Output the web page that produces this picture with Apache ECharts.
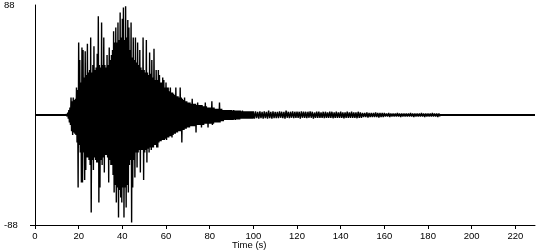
<!DOCTYPE html>
<html>
<head>
<meta charset="utf-8">
<script src="https://cdn.jsdelivr.net/npm/echarts@6/dist/echarts.min.js"></script>
<style>html,body{margin:0;padding:0;background:#fff}#c{width:550px;height:250px}</style>
</head>
<body>
<div id="c"></div>
<script>
// Axis tick labels
var xTickValues = [0, 20, 40, 60, 80, 100, 120, 140, 160, 180, 200, 220];
var yTickValues = [-88, 88];
var xMax = 229;

// Strong-motion part: peak values read every 0.5 s starting at 14 s
var strongStart = 14;
var strongStep = 0.5;
var strongHi = [
  0.8, 1, 2, 4, 6, 14, 11, 14, 12, 13,
  22, 20, 58, 44, 26, 54, 52, 30, 51, 32,
  57, 34, 36, 62, 34, 40, 55, 36, 38, 49,
  79, 40, 38, 74, 40, 62, 40, 38, 48, 40,
  54, 44, 48, 52, 67, 58, 70, 58, 74, 60,
  82, 62, 77, 86, 60, 87, 62, 76, 70, 52,
  74, 46, 62, 44, 62, 42, 58, 40, 52, 38,
  36, 62, 36, 34, 60, 34, 32, 50, 33, 44,
  30, 53, 28, 36, 28, 36, 32, 26, 26, 30,
  28, 22, 26, 22, 22, 19, 22, 18, 18, 17,
  16, 22, 15, 15, 14, 22, 14, 13, 12, 14,
  11, 11, 10, 10, 10, 9, 13, 9, 9, 9,
  8, 10, 8, 8, 8, 8, 7, 7, 10, 7,
  6, 6, 6, 6, 11, 6, 6, 5, 5, 5,
  5, 10, 5, 5, 4, 4, 4, 4, 4, 4,
  4, 4, 4, 3.5, 4, 3.5, 3.5, 3.5, 3.5, 3.5,
  3.5, 3, 3.5, 3, 3, 3, 3, 3, 3, 3,
  3, 3
];
var strongLo = [
  -0.8, -1, -3, -6, -8, -13, -16, -14, -15, -16,
  -22, -58, -24, -30, -54, -54, -30, -52, -44, -34,
  -34, -36, -40, -78, -36, -44, -34, -36, -38, -38,
  -70, -58, -36, -40, -34, -46, -32, -32, -34, -54,
  -36, -40, -40, -48, -62, -56, -70, -58, -82, -60,
  -66, -70, -58, -82, -58, -74, -56, -62, -40, -36,
  -86, -58, -36, -50, -30, -42, -30, -28, -46, -28,
  -28, -52, -30, -28, -38, -27, -30, -26, -28, -26,
  -26, -24, -24, -26, -26, -22, -21, -21, -20, -20,
  -20, -19, -20, -18, -18, -17, -17, -18, -16, -15,
  -15, -14, -14, -13, -13, -13, -22, -12, -12, -11,
  -11, -10, -10, -10, -9, -9, -9, -9, -9, -14,
  -8, -8, -8, -8, -10, -8, -8, -7, -7, -7,
  -10, -7, -7, -7, -8, -7, -6, -6, -6, -6,
  -6, -6, -5, -5, -5, -4, -4, -4, -4, -4,
  -4, -4, -4, -4, -3.5, -4, -3.5, -3.5, -3.5, -3.5,
  -3, -3, -3, -3, -3, -3, -3, -3, -3, -3,
  -3, -3
];

// Coda: peak values read every 1 s starting at 100 s
var codaStart = 100;
var codaStep = 1;
var codaHi = [
  3, 3, 2.6, 3, 2.6, 3, 2.6, 3.5, 2.6, 3,
  2.6, 2.6, 3, 2.6, 2.6, 3.5, 2.6, 2.6, 3, 2.6,
  2.6, 2.6, 3, 2.6, 2.6, 2.6, 3, 2.6, 2, 2.6,
  2.6, 2, 2.6, 2.6, 2, 2.6, 2.6, 2, 2.6, 2,
  2.6, 2, 2, 2.6, 2, 2.6, 2, 2, 2.6, 2,
  1.6, 1.6, 2, 1.6, 1.6, 1.6, 2, 1.6, 1.6, 1.6,
  1.6, 1.2, 1.6, 1.2, 1.2, 1.2, 1.6, 1.2, 1.2, 1.2,
  1.2, 1.2, 1.6, 1.2, 1.2, 1.2, 1.2, 1.6, 1.2, 1.2,
  1.2, 1.2, 1.6, 1.2, 1.2, 1.2
];
var codaLo = [
  -3, -2.6, -3, -2.6, -3, -2.6, -3, -2.6, -3, -2.6,
  -2.6, -2.6, -2.2, -2.6, -3, -2.2, -2.6, -2.2, -2.6, -2.2,
  -2.2, -3, -2.2, -2.2, -2.6, -2.2, -2.2, -3, -2.2, -2.2,
  -2.2, -2.2, -2.6, -2.2, -2.2, -2.2, -2.6, -2.2, -2.2, -2.2,
  -2.2, -2.6, -2.2, -2.2, -2.2, -2.2, -2.2, -2.6, -2.2, -2.2,
  -1.6, -1.6, -2, -1.6, -1.6, -1.6, -1.6, -2, -1.6, -1.6,
  -1.2, -1.2, -1.6, -1.2, -1.2, -1.2, -1.2, -1.6, -1.2, -1.2,
  -1.2, -1.2, -1.2, -1.6, -1.2, -1.2, -1.2, -1.2, -1.6, -1.2,
  -1.2, -1.2, -1.2, -1.2, -1.6, -1.2
];

function zigzag(start, step, hi, lo) {
  var out = [];
  for (var i = 0; i < hi.length; i++) {
    var t = start + i * step;
    out.push([t, hi[i]]);
    out.push([t + step / 2, lo[i]]);
  }
  return out;
}
var trace = zigzag(strongStart, strongStep, strongHi, strongLo)
  .concat(zigzag(codaStart, codaStep, codaHi, codaLo));

var font = 'Liberation Sans, Arial, sans-serif';
var chart = echarts.init(document.getElementById('c'), null, {renderer: 'canvas'});
chart.setOption({
  animation: false,
  backgroundColor: '#ffffff',
  grid: {left: 35, right: 15, top: 5, bottom: 25, containLabel: false, outerBoundsMode: 'none'},
  xAxis: {
    type: 'value', min: 0, max: xMax, interval: 20,
    splitLine: {show: false},
    axisLine: {show: true, onZero: false, lineStyle: {color: '#000', width: 1}},
    axisTick: {show: true, length: 4, customValues: xTickValues, lineStyle: {color: '#000'}},
    axisLabel: {customValues: xTickValues, color: '#000', fontSize: 9.5, fontFamily: font, margin: 6}
  },
  yAxis: {
    type: 'value', min: -88, max: 88,
    name: 'cm/s/s', nameLocation: 'middle', nameRotate: 90, nameGap: 22,
    nameTextStyle: {color: '#000', fontSize: 9.5, fontFamily: font},
    splitLine: {show: false},
    axisLine: {show: true, lineStyle: {color: '#000', width: 1}},
    axisTick: {show: true, length: 5, customValues: [-88], lineStyle: {color: '#000'}},
    axisLabel: {customValues: yTickValues, color: '#000', fontSize: 9.5, fontFamily: font, align: 'left', margin: 31}
  },
  graphic: [{
    type: 'text', left: 232, top: 240,
    style: {text: 'Time (s)', fill: '#000', font: '9.5px ' + font}
  }],
  series: [{
    type: 'line',
    data: trace,
    showSymbol: false,
    symbol: 'none',
    lineStyle: {color: '#000', width: 1.4},
    silent: true,
    markLine: {
      silent: true, symbol: ['none', 'none'], label: {show: false},
      lineStyle: {color: '#000', width: 2, type: 'solid'},
      data: [{yAxis: 0}]
    }
  }]
});
</script>
</body>
</html>
